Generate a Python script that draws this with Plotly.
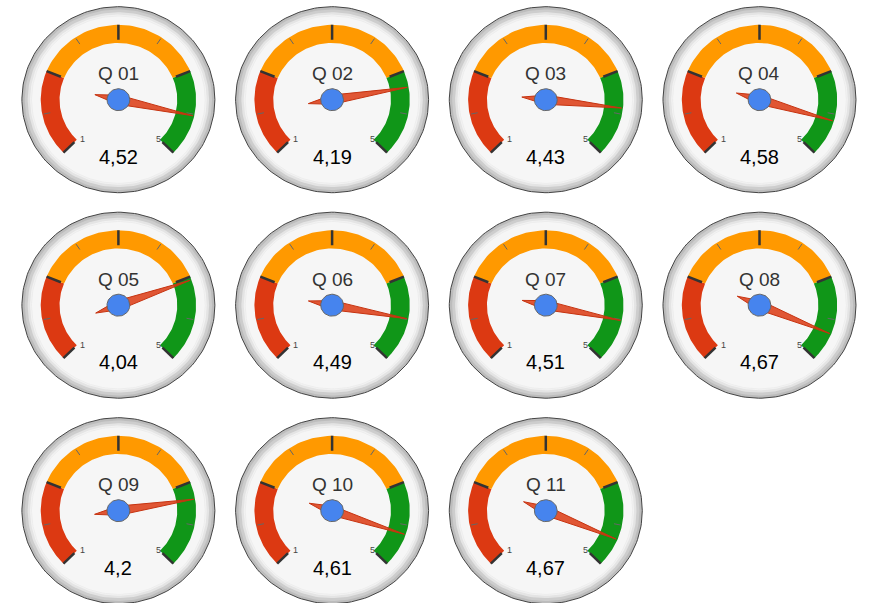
import numpy as np
import plotly.graph_objects as go

# ---------------- data ----------------
labels = ["Q 01", "Q 02", "Q 03", "Q 04", "Q 05", "Q 06",
          "Q 07", "Q 08", "Q 09", "Q 10", "Q 11"]
values = [4.52, 4.19, 4.43, 4.58, 4.04, 4.49, 4.51, 4.67, 4.2, 4.61, 4.67]
gauge_min = 1
gauge_max = 5
band_starts = [1, 2, 4]
band_ends = [2, 4, 5]
band_colors = ["#DC3912", "#FF9900", "#109618"]
major_ticks = [1, 2, 3, 4, 5]
minor_ticks = [1.5, 2.5, 3.5, 4.5]
end_labels = ["1", "5"]

# ---------------- layout geometry ----------------
W, H = 871, 603
N_COLS = 4
X0, DX = 118.4, 213.7     # gauge centre of first column, column pitch (px)
Y0, DY = 99.7, 205.5      # gauge centre of first row, row pitch (px)
SX, SY = 96.5, 93.0       # px per unit radius (outer rim = 1)
SWEEP = 270.0

FONT = "Arial, Liberation Sans, sans-serif"


def ang(v):
    v = np.asarray(v, dtype=float)
    return np.radians(-SWEEP / 2 + (v - gauge_min) / (gauge_max - gauge_min) * SWEEP)


def pol(r, v):
    a = ang(v)
    return r * np.sin(a), r * np.cos(a)


def circle(r, n=180):
    t = np.linspace(0, 2 * np.pi, n)
    return r * np.cos(t), r * np.sin(t)


def arc(r0, r1, v0, v1, n=60):
    vs = np.linspace(v0, v1, n)
    xo, yo = pol(r1, vs)
    xi, yi = pol(r0, vs[::-1])
    return np.concatenate([xo, xi, xo[:1]]), np.concatenate([yo, yi, yo[:1]])


def segs(vals, r0, r1):
    xs, ys = [], []
    for v in vals:
        xa, ya = pol(r0, v)
        xb, yb = pol(r1, v)
        xs += [float(xa), float(xb), None]
        ys += [float(ya), float(yb), None]
    return xs, ys


fig = go.Figure()
annotations = []
layout_axes = {}

for i, (lab, val) in enumerate(zip(labels, values)):
    k = i + 1
    col, row = i % N_COLS, i // N_COLS
    cx = X0 + col * DX
    cy = Y0 + row * DY
    px0, px1 = max(0.0, cx - DX / 2), min(W, cx + DX / 2)
    py0, py1 = max(0.0, cy - DY / 2), min(H, cy + DY / 2)
    xr = [(px0 - cx) / SX, (px1 - cx) / SX]
    yr = [(cy - py1) / SY, (cy - py0) / SY]
    sfx = "" if k == 1 else str(k)
    layout_axes["xaxis" + sfx] = dict(domain=[px0 / W, px1 / W], range=xr,
                                      visible=False, fixedrange=True)
    layout_axes["yaxis" + sfx] = dict(domain=[1 - py1 / H, 1 - py0 / H], range=yr,
                                      visible=False, fixedrange=True)
    xa, ya = "x" + sfx, "y" + sfx

    def add(x, y, **kw):
        fig.add_trace(go.Scatter(x=x, y=y, xaxis=xa, yaxis=ya, showlegend=False,
                                 hoverinfo="skip", **kw))

    # rim and face
    x, y = circle(1.0)
    add(x, y, mode="lines", fill="toself", fillcolor="#bcbcbc",
        line=dict(color="#444444", width=1))
    x, y = circle(0.97)
    add(x, y, mode="lines", fill="toself", fillcolor="#cdcdcd", line=dict(width=0))
    x, y = circle(0.94)
    add(x, y, mode="lines", fill="toself", fillcolor="#e4e4e4", line=dict(width=0))
    x, y = circle(0.915)
    add(x, y, mode="lines", fill="toself", fillcolor="#f2f2f2", line=dict(width=0))
    x, y = circle(0.9)
    add(x, y, mode="lines", fill="toself", fillcolor="#f6f6f6",
        line=dict(color="#ededed", width=1))

    # colour bands
    for s, e, c in zip(band_starts, band_ends, band_colors):
        x, y = arc(0.61, 0.805, s, e)
        add(x, y, mode="lines", fill="toself", fillcolor=c, line=dict(width=0))

    # ticks
    x, y = segs(minor_ticks, 0.72, 0.79)
    add(x, y, mode="lines", line=dict(color="#666666", width=1))
    x, y = segs(major_ticks, 0.645, 0.805)
    add(x, y, mode="lines", line=dict(color="#333333", width=2.5))

    # needle
    a = float(ang(val))
    ux, uy = np.sin(a), np.cos(a)
    vx, vy = np.cos(a), -np.sin(a)
    tip, tail, hw = 0.79, 0.25, 0.05
    nx = [tip * ux, hw * vx, -tail * ux, -hw * vx, tip * ux]
    ny = [tip * uy, hw * vy, -tail * uy, -hw * vy, tip * uy]
    add(nx, ny, mode="lines", fill="toself", fillcolor="rgba(220,57,18,0.85)",
        line=dict(color="#C63310", width=1))

    # hub
    x, y = circle(0.118, 60)
    add(x, y, mode="lines", fill="toself", fillcolor="#4684EE",
        line=dict(color="#666666", width=1))

    # texts
    annotations.append(dict(x=0, y=0.28, xref=xa, yref=ya, text=lab, showarrow=False,
                            font=dict(family=FONT, size=19, color="#333333"),
                            xanchor="center", yanchor="middle"))
    annotations.append(dict(x=0, y=-0.615, xref=xa, yref=ya,
                            text=str(val).replace(".", ","), showarrow=False,
                            font=dict(family=FONT, size=20, color="#000000"),
                            xanchor="center", yanchor="middle"))
    annotations.append(dict(x=-0.376, y=-0.426, xref=xa, yref=ya, text=end_labels[0],
                            showarrow=False, font=dict(family=FONT, size=9, color="#444444"),
                            xanchor="center", yanchor="middle"))
    annotations.append(dict(x=0.415, y=-0.426, xref=xa, yref=ya, text=end_labels[1],
                            showarrow=False, font=dict(family=FONT, size=9, color="#444444"),
                            xanchor="center", yanchor="middle"))

fig.update_layout(width=W, height=H, margin=dict(l=0, r=0, t=0, b=0),
                  paper_bgcolor="white", plot_bgcolor="rgba(0,0,0,0)",
                  annotations=annotations, **layout_axes)

fig.write_html("out.html", config={"displayModeBar": False})
